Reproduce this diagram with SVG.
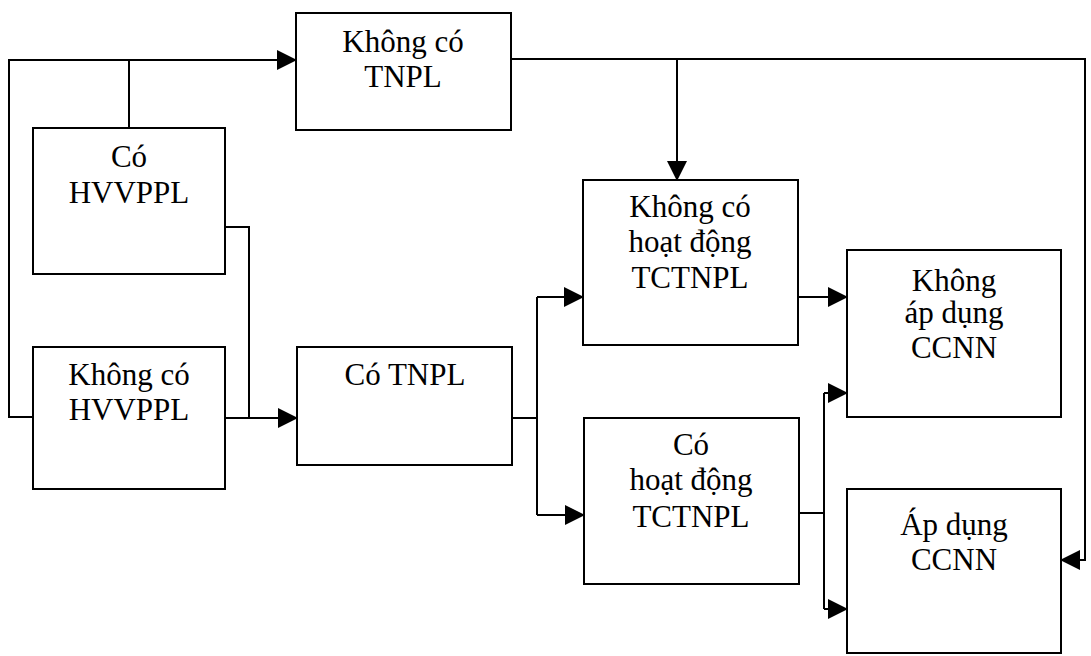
<svg xmlns="http://www.w3.org/2000/svg" width="1091" height="656" viewBox="0 0 1091 656">
  <style>
    .box { fill: #fff; stroke: #000; stroke-width: 2; }
    .lbl { font-family: "Liberation Serif", "Times New Roman", serif; font-size: 31px; fill: #000; text-anchor: middle; }
    .con { fill: none; stroke: #000; stroke-width: 2; }
  </style>
  <defs>
    <marker id="arr" markerUnits="userSpaceOnUse" markerWidth="20" markerHeight="20" refX="19" refY="10" orient="auto">
      <path d="M0,0 L20,10 L0,20 z" fill="#000"/>
    </marker>
  </defs>
  <rect width="1091" height="656" fill="#fff"/>

  <g id="connectors">
    <path class="con" d="M129,128 V60"/>
    <path class="con" d="M33,417 H9 V60 H296" marker-end="url(#arr)"/>
    <path class="con" d="M225,227 H249 V418"/>
    <path class="con" d="M225,418 H297" marker-end="url(#arr)"/>
    <path class="con" d="M511,59 H1085 V560 H1061" marker-end="url(#arr)"/>
    <path class="con" d="M677,59 V180" marker-end="url(#arr)"/>
    <path class="con" d="M512,418 H537"/>
    <path class="con" d="M537,297 V515"/>
    <path class="con" d="M537,297 H583" marker-end="url(#arr)"/>
    <path class="con" d="M537,515 H584" marker-end="url(#arr)"/>
    <path class="con" d="M798,297 H847" marker-end="url(#arr)"/>
    <path class="con" d="M799,513 H824"/>
    <path class="con" d="M824,393 V609"/>
    <path class="con" d="M824,393 H847" marker-end="url(#arr)"/>
    <path class="con" d="M824,609 H847" marker-end="url(#arr)"/>
  </g>

  <g id="khong-co-tnpl">
    <rect class="box" x="296" y="13" width="215" height="117"/>
    <text class="lbl" x="403" y="52">Không có</text>
    <text class="lbl" x="403" y="87">TNPL</text>
  </g>
  <g id="co-hvvppl">
    <rect class="box" x="33" y="128" width="192" height="146"/>
    <text class="lbl" x="129" y="167">Có</text>
    <text class="lbl" x="129" y="203">HVVPPL</text>
  </g>
  <g id="khong-co-hvvppl">
    <rect class="box" x="33" y="347" width="192" height="142"/>
    <text class="lbl" x="129" y="385">Không có</text>
    <text class="lbl" x="129" y="420">HVVPPL</text>
  </g>
  <g id="co-tnpl">
    <rect class="box" x="297" y="347" width="215" height="118"/>
    <text class="lbl" x="405" y="385">Có TNPL</text>
  </g>
  <g id="khong-co-hoat-dong">
    <rect class="box" x="583" y="180" width="215" height="165"/>
    <text class="lbl" x="690" y="217">Không có</text>
    <text class="lbl" x="690" y="252">hoạt động</text>
    <text class="lbl" x="690" y="288">TCTNPL</text>
  </g>
  <g id="co-hoat-dong">
    <rect class="box" x="584" y="418" width="215" height="166"/>
    <text class="lbl" x="691" y="455">Có</text>
    <text class="lbl" x="691" y="490">hoạt động</text>
    <text class="lbl" x="691" y="527">TCTNPL</text>
  </g>
  <g id="khong-ap-dung">
    <rect class="box" x="847" y="250" width="214" height="167"/>
    <text class="lbl" x="954" y="291">Không</text>
    <text class="lbl" x="954" y="323">áp dụng</text>
    <text class="lbl" x="954" y="358">CCNN</text>
  </g>
  <g id="ap-dung">
    <rect class="box" x="847" y="489" width="214" height="164"/>
    <text class="lbl" x="954" y="535">Áp dụng</text>
    <text class="lbl" x="954" y="570">CCNN</text>
  </g>
</svg>
